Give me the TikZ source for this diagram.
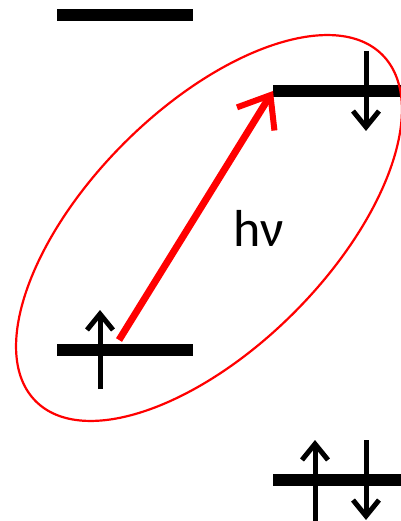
\documentclass[tikz,border=0pt]{standalone}
\usepackage{fontspec}
\setmainfont{Carlito}
\usetikzlibrary{arrows.meta}
\begin{document}
\begin{tikzpicture}[x=1pt,y=-1pt,
  level/.style={fill=black,inner sep=0pt,minimum height=12pt,minimum width=136pt},
  spin/.style={line width=5pt,-{Straight Barb[length=16pt,width=26pt,line width=5pt]}},
  photon/.style={red,line width=7pt,-{Straight Barb[length=28pt,width=44pt,line width=6pt]}}]
\useasboundingbox (0,0) rectangle (400,521);
\node[level] (l1) at (125,15) {};
\node[level,anchor=west] (l2) at (273,91) {};
\node[level] (l3) at (125,349.5) {};
\node[level,anchor=west] (l4) at (273,479.5) {};
% ellipse
\draw[red,line width=2.2pt] (209,228) ellipse [x radius=245pt, y radius=120pt, rotate=45];
% spins
\coordinate (s3a) at (100,389);
\coordinate (s3b) at (100,310);
\draw[spin] (s3a) -- (s3b);
\coordinate (s2a) at (366,51);
\coordinate (s2b) at (366,131);
\draw[spin] (s2a) -- (s2b);
\coordinate (s4a) at (315,525);
\coordinate (s4b) at (315,440);
\draw[spin] (s4a) -- (s4b);
\coordinate (s4c) at (366,440);
\coordinate (s4d) at (366,520);
\draw[spin] (s4c) -- (s4d);
% photon
\coordinate (p0) at (119,340);
\draw[photon] (p0) -- (l2.west);
\node[font=\fontsize{52}{60}\selectfont] (hv) at (259,228) {hν};
\end{tikzpicture}
\end{document}
